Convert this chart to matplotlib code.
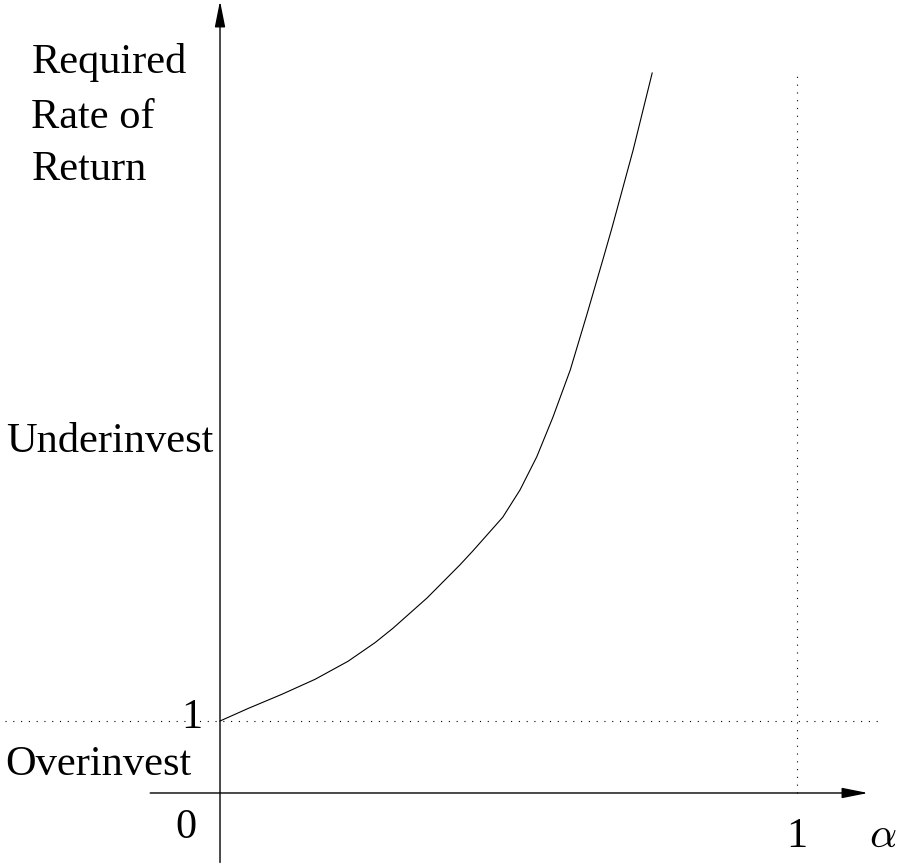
import matplotlib
matplotlib.use("Agg")
import matplotlib.pyplot as plt

plt.rcParams['font.family'] = ['Liberation Serif', 'DejaVu Serif']
plt.rcParams['mathtext.fontset'] = 'cm'

# curve: alpha vs required rate of return
alphaVals = [0, 0.049, 0.107, 0.165, 0.222, 0.269, 0.300, 0.359, 0.416,
             0.438, 0.490, 0.520, 0.549, 0.577, 0.607, 0.636, 0.664,
             0.679, 0.716, 0.749]
rateVals = [1.0, 1.175, 1.37, 1.58, 1.83, 2.09, 2.29, 2.71, 3.17,
            3.36, 3.83, 4.21, 4.67, 5.22, 5.875, 6.65, 7.42,
            7.84, 8.93, 10.0]

breakEven = 1
alphaMax = 1
rateTop = 10

fig = plt.figure(figsize=(8.97, 8.66), dpi=100)
ax = fig.add_axes([0, 0, 1, 1])
ax.set_xlim(-0.3813, 1.1733)
ax.set_ylim(-1.014, 11.014)
ax.axis("off")

# axes with arrows
arrow = dict(arrowstyle="-|>,head_length=1.0,head_width=0.2", color="black",
             lw=1.0, shrinkA=0, shrinkB=0, mutation_scale=16)
ax.annotate("", xy=(1.123, 0), xytext=(-0.121, 0), arrowprops=arrow)
ax.annotate("", xy=(0, 11.0), xytext=(0, -0.965), arrowprops=arrow)

# dotted guide lines
ax.plot([-0.373, 1.14], [breakEven, breakEven], color="black", lw=0.8,
        linestyle=(0, (1, 6)))
ax.plot([alphaMax, alphaMax], [0, rateTop], color="black", lw=0.8,
        linestyle=(0, (1, 6)))

ax.plot(alphaVals, rateVals, color="black", lw=0.8)

fs = 30.5
ax.text(-0.327, 10.0, "Required", fontsize=fs, ha="left", va="baseline")
ax.text(-0.327, 9.24, "Rate of", fontsize=fs, ha="left", va="baseline")
ax.text(-0.327, 8.51, "Return", fontsize=fs, ha="left", va="baseline")
ax.text(-0.012, 4.74, "Underinvest", fontsize=fs, ha="right", va="baseline")
ax.text(-0.373, 0.25, "Overinvest", fontsize=fs, ha="left", va="baseline")
ax.text(-0.031, 0.90, "1", fontsize=fs, ha="right", va="baseline")
ax.text(-0.040, -0.625, "0", fontsize=fs, ha="right", va="baseline")
ax.text(0.999, -0.75, "1", fontsize=fs, ha="center", va="baseline")
ax.text(1.124, -0.75, r"$\alpha$", fontsize=fs, ha="left", va="baseline")

fig.savefig("out.png", dpi=100)
